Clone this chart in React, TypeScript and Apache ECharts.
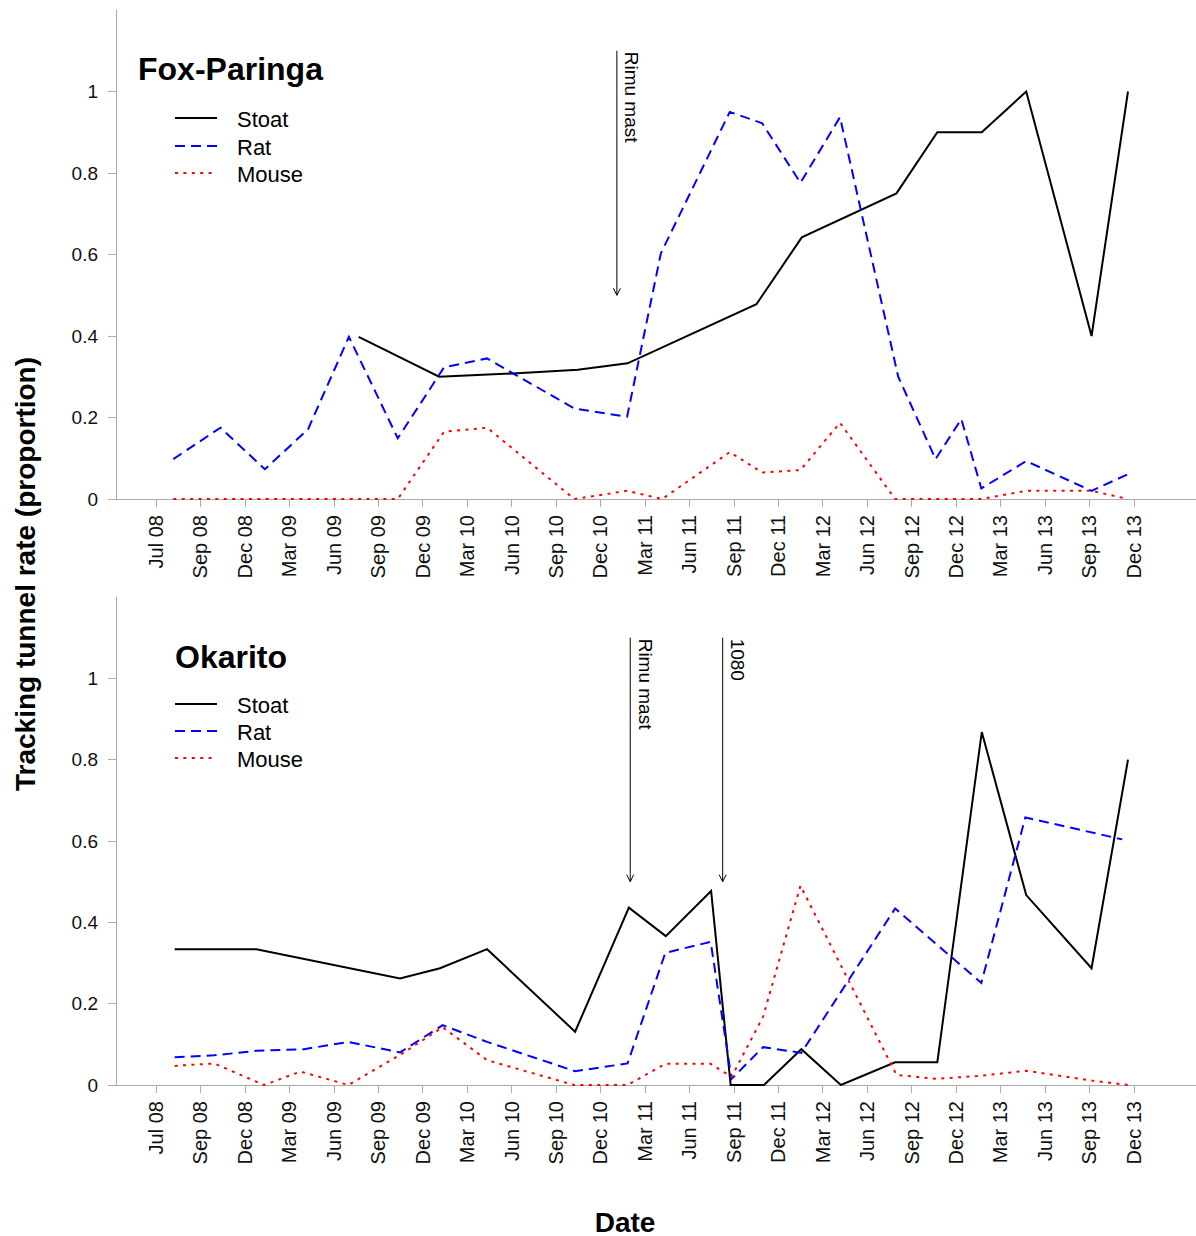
import React, { useEffect, useRef } from "react";
import * as echarts from "echarts";

// Tick labels (one per quarter, index 0 = Jul 08)
const quarterLabels = [
  "Jul 08", "Sep 08", "Dec 08", "Mar 09", "Jun 09", "Sep 09", "Dec 09",
  "Mar 10", "Jun 10", "Sep 10", "Dec 10", "Mar 11", "Jun 11", "Sep 11",
  "Dec 11", "Mar 12", "Jun 12", "Sep 12", "Dec 12", "Mar 13", "Jun 13",
  "Sep 13", "Dec 13",
];
const yTicks = [0, 0.2, 0.4, 0.6, 0.8, 1];

// Fox-Paringa (x = position in quarters from Jul 08)
const foxStoatX = [4.56, 6.37, 8.03, 9.49, 10.61, 13.51, 14.53, 16.66, 17.58, 18.58, 19.58, 21.05, 21.87];
const foxStoatY = [0.398, 0.3, 0.308, 0.317, 0.333, 0.478, 0.642, 0.75, 0.9, 0.9, 1.0, 0.4, 1.0];
const foxRatX = [0.39, 1.45, 2.45, 3.42, 4.34, 5.44, 6.48, 7.45, 9.41, 10.6, 11.36, 12.91, 13.64, 14.5, 15.39, 16.7, 17.54, 18.12, 18.57, 19.58, 21.05, 21.87];
const foxRatY = [0.098, 0.175, 0.073, 0.171, 0.398, 0.149, 0.323, 0.345, 0.222, 0.202, 0.603, 0.95, 0.922, 0.776, 0.937, 0.3, 0.098, 0.196, 0.026, 0.093, 0.02, 0.061];
const foxMouseX = [0.39, 1.45, 2.45, 3.42, 4.34, 5.44, 6.48, 7.45, 9.41, 10.6, 11.39, 12.91, 13.64, 14.5, 15.39, 16.63, 17.54, 18.12, 18.57, 19.58, 21.05, 21.87];
const foxMouseY = [0, 0, 0, 0, 0, 0, 0.165, 0.175, 0, 0.02, 0, 0.115, 0.065, 0.071, 0.187, 0, 0, 0, 0, 0.02, 0.02, 0];

// Okarito
const okStoatX = [0.42, 2.26, 5.49, 6.39, 7.45, 9.43, 10.64, 11.47, 12.49, 12.93, 13.68, 14.52, 15.41, 16.63, 17.58, 18.58, 19.58, 21.05, 21.87];
const okStoatY = [0.334, 0.334, 0.262, 0.287, 0.334, 0.131, 0.436, 0.366, 0.477, 0, 0, 0.088, 0, 0.056, 0.056, 0.868, 0.467, 0.287, 0.8];
const okRatX = [0.42, 1.31, 2.26, 3.33, 4.33, 5.49, 6.45, 7.45, 9.43, 10.61, 11.46, 12.48, 12.95, 13.66, 14.52, 16.63, 18.57, 19.56, 21.74];
const okRatY = [0.068, 0.073, 0.084, 0.088, 0.106, 0.08, 0.147, 0.106, 0.034, 0.053, 0.325, 0.352, 0.015, 0.093, 0.079, 0.434, 0.251, 0.658, 0.604];
const okMouseX = [0.42, 1.31, 2.43, 3.25, 4.33, 5.49, 6.45, 7.45, 9.41, 10.61, 11.46, 12.48, 12.95, 13.66, 14.5, 16.66, 17.56, 18.59, 19.58, 21.05, 21.87];
const okMouseY = [0.047, 0.053, 0, 0.033, 0, 0.074, 0.142, 0.061, 0, 0, 0.052, 0.052, 0.02, 0.168, 0.49, 0.025, 0.015, 0.023, 0.035, 0.011, 0];

// Annotations (arrows)
const arrowTop = 1.1;
const arrowBottom = 0.5;
const foxArrowX = [10.37];
const foxArrowLabels = ["Rimu mast"];
const okArrowX = [10.67, 12.75];
const okArrowLabels = ["Rimu mast", "1080"];

const FONT = "'Liberation Sans', Arial, Helvetica, sans-serif";
const AXIS_GREY = "#ababab";
const STOAT_COLOR = "#000000";
const RAT_COLOR = "#0000ff";
const MOUSE_COLOR = "#ff0000";
const RAT_DASH = [10, 6];
const MOUSE_DASH = [3, 5.4];

function pairs(xs: number[], ys: number[]) {
  return xs.map((x, i) => [x, ys[i]]);
}

function makeAxes(gridIndex: number) {
  const xAxis = {
    type: "value",
    gridIndex,
    min: -0.9,
    max: 23.4,
    axisLine: { show: true, onZero: false, lineStyle: { color: AXIS_GREY, width: 1 } },
    axisTick: {
      show: true,
      customValues: quarterLabels.map((_, i) => i),
      length: 8,
      lineStyle: { color: AXIS_GREY, width: 1 },
    },
    axisLabel: {
      show: true,
      customValues: quarterLabels.map((_, i) => i),
      rotate: 90,
      margin: 16,
      fontSize: 20,
      fontFamily: FONT,
      color: "#111",
      formatter: (v: number) => quarterLabels[Math.round(v)] ?? "",
    },
    splitLine: { show: false },
  };
  const yAxis = {
    type: "value",
    gridIndex,
    min: 0,
    max: 1.2,
    axisLine: { show: true, onZero: false, lineStyle: { color: AXIS_GREY, width: 1 } },
    axisTick: {
      show: true,
      customValues: yTicks,
      length: 8,
      lineStyle: { color: AXIS_GREY, width: 1 },
    },
    axisLabel: {
      show: true,
      customValues: yTicks,
      margin: 18,
      fontSize: 19,
      fontFamily: FONT,
      color: "#111",
      formatter: (v: number) => String(Math.round(v * 10) / 10),
    },
    splitLine: { show: false },
  };
  return { xAxis, yAxis };
}

function lineSeries(name: string, idx: number, data: number[][], color: string, dash: any) {
  return {
    name,
    type: "line",
    xAxisIndex: idx,
    yAxisIndex: idx,
    data,
    showSymbol: false,
    symbol: "none",
    silent: true,
    lineStyle: { color, width: 2, type: dash, cap: "butt", join: "miter" },
    z: 3,
  };
}

function arrowSeries(idx: number, xs: number[], labels: string[]) {
  return {
    type: "custom",
    xAxisIndex: idx,
    yAxisIndex: idx,
    silent: true,
    clip: false,
    encode: { x: 0, y: [1, 2] },
    data: xs.map((x) => [x, arrowTop, arrowBottom]),
    renderItem: (params: any, api: any) => {
      const x = api.value(0);
      const top = api.coord([x, api.value(1)]);
      const bot = api.coord([x, api.value(2)]);
      const label = labels[params.dataIndex];
      return {
        type: "group",
        children: [
          {
            type: "line",
            shape: { x1: top[0], y1: top[1], x2: bot[0], y2: bot[1] },
            style: { stroke: "#000", lineWidth: 1 },
          },
          {
            type: "polyline",
            shape: { points: [[bot[0] - 3.5, bot[1] - 7], [bot[0], bot[1]], [bot[0] + 3.5, bot[1] - 7]] },
            style: { stroke: "#000", fill: "none", lineWidth: 1 },
          },
          {
            type: "text",
            x: top[0] + 15,
            y: top[1] + 1,
            rotation: -Math.PI / 2,
            style: {
              text: label,
              fontSize: 19,
              fontFamily: FONT,
              fill: "#000",
              align: "left",
              verticalAlign: "middle",
            },
          },
        ],
      };
    },
  };
}

function legendGraphics(titleText: string, titleX: number, titleY: number, rowsY: number[]) {
  const items = [
    { name: "Stoat", color: STOAT_COLOR, dash: null as any },
    { name: "Rat", color: RAT_COLOR, dash: RAT_DASH },
    { name: "Mouse", color: MOUSE_COLOR, dash: MOUSE_DASH },
  ];
  const out: any[] = [
    {
      type: "text",
      x: titleX,
      y: titleY,
      style: {
        text: titleText,
        fontSize: 32,
        fontWeight: "bold",
        fontFamily: FONT,
        fill: "#000",
        align: "left",
        verticalAlign: "middle",
      },
    },
  ];
  items.forEach((it, i) => {
    out.push({
      type: "line",
      shape: { x1: 175, y1: rowsY[i], x2: 217, y2: rowsY[i] },
      style: { stroke: it.color, lineWidth: 2, lineDash: it.dash || undefined },
    });
    out.push({
      type: "text",
      x: 237,
      y: rowsY[i] + 1,
      style: {
        text: it.name,
        fontSize: 22,
        fontFamily: FONT,
        fill: "#000",
        align: "left",
        verticalAlign: "middle",
      },
    });
  });
  return out;
}

export default function App() {
  const ref = useRef<HTMLDivElement>(null);
  useEffect(() => {
    if (!ref.current) return;
    const chart = echarts.init(ref.current, undefined, { renderer: "svg" });
    const a0 = makeAxes(0);
    const a1 = makeAxes(1);
    chart.setOption({
      animation: false,
      backgroundColor: "#ffffff",
      grid: [
        { left: 116, top: 10, width: 1080, height: 489 },
        { left: 116, top: 597, width: 1080, height: 488 },
      ],
      xAxis: [a0.xAxis, a1.xAxis],
      yAxis: [a0.yAxis, a1.yAxis],
      series: [
        lineSeries("Stoat", 0, pairs(foxStoatX, foxStoatY), STOAT_COLOR, "solid"),
        lineSeries("Rat", 0, pairs(foxRatX, foxRatY), RAT_COLOR, RAT_DASH),
        lineSeries("Mouse", 0, pairs(foxMouseX, foxMouseY), MOUSE_COLOR, MOUSE_DASH),
        arrowSeries(0, foxArrowX, foxArrowLabels),
        lineSeries("Stoat", 1, pairs(okStoatX, okStoatY), STOAT_COLOR, "solid"),
        lineSeries("Rat", 1, pairs(okRatX, okRatY), RAT_COLOR, RAT_DASH),
        lineSeries("Mouse", 1, pairs(okMouseX, okMouseY), MOUSE_COLOR, MOUSE_DASH),
        arrowSeries(1, okArrowX, okArrowLabels),
      ],
      graphic: [
        ...legendGraphics("Fox-Paringa", 138, 69, [118, 146, 173]),
        ...legendGraphics("Okarito", 175, 657, [704, 731, 758]),
        {
          type: "text",
          x: 25,
          y: 574,
          rotation: Math.PI / 2,
          style: {
            text: "Tracking tunnel rate (proportion)",
            fontSize: 28,
            fontWeight: "bold",
            fontFamily: FONT,
            fill: "#000",
            align: "center",
            verticalAlign: "middle",
          },
        },
        {
          type: "text",
          x: 625,
          y: 1222,
          style: {
            text: "Date",
            fontSize: 28,
            fontWeight: "bold",
            fontFamily: FONT,
            fill: "#000",
            align: "center",
            verticalAlign: "middle",
          },
        },
      ],
    });
    return () => chart.dispose();
  }, []);
  return (
    <div
      ref={ref}
      style={{ position: "absolute", left: 0, top: 0, width: 1196, height: 1236, background: "#fff" }}
    />
  );
}
